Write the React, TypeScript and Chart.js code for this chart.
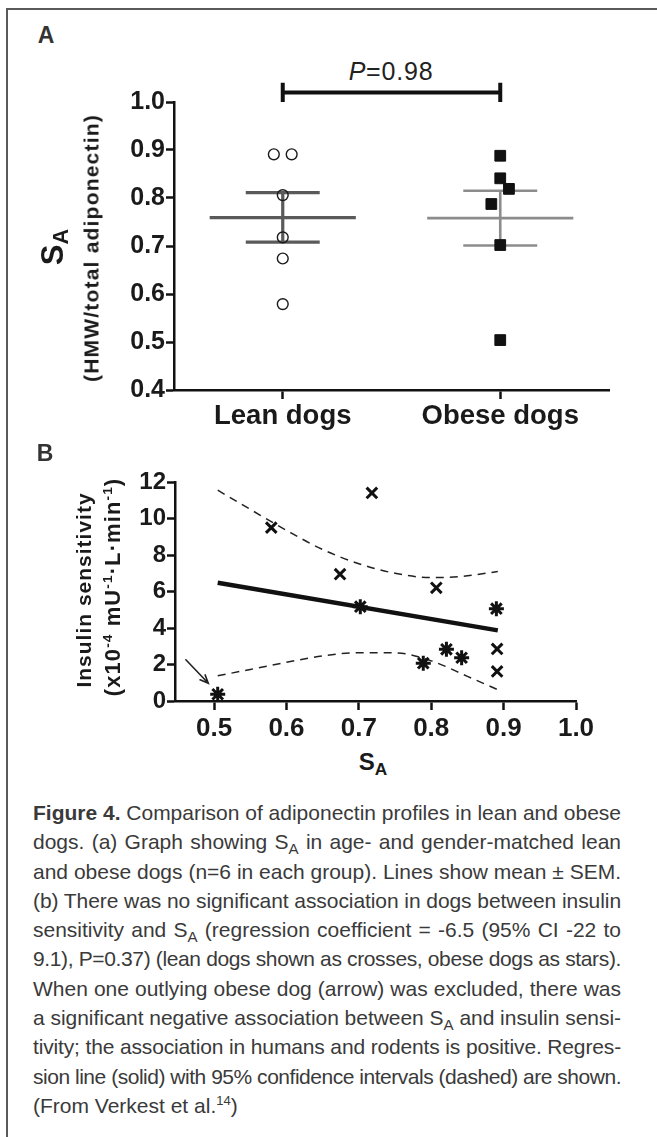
import React, { useEffect, useLayoutEffect, useRef } from 'react';
import { Chart, registerables } from 'chart.js';

Chart.register(...registerables);

// ---------------- Panel A data ----------------
const groupLabels = ['Lean dogs', 'Obese dogs'];
const groupPositions = [1, 2];
const leanSA = [0.891, 0.891, 0.806, 0.718, 0.674, 0.579];
const leanOffset = [-0.041, 0.041, 0, 0, 0, 0];
const obeseSA = [0.888, 0.841, 0.819, 0.7875, 0.702, 0.504];
const obeseOffset = [0, 0, 0.04, -0.041, 0, 0];
// mean, mean + SEM, mean - SEM
const leanMeanSEM = [0.759, 0.811, 0.708];
const obeseMeanSEM = [0.758, 0.815, 0.701];
const yTicksA = [0.4, 0.5, 0.6, 0.7, 0.8, 0.9, 1.0];
const bracketX = [1, 1, 1, 2, 2, 2];
const bracketY = [1.0, 1.04, 1.02, 1.02, 1.04, 1.0];
const pValueLabel = '=0.98';

// ---------------- Panel B data ----------------
const leanSAB = [0.579, 0.674, 0.718, 0.807, 0.891, 0.891];
const leanInsulin = [9.5, 6.95, 11.4, 6.2, 2.85, 1.62];
const obeseSAB = [0.505, 0.702, 0.789, 0.821, 0.842, 0.89];
const obeseInsulin = [0.37, 5.17, 2.07, 2.83, 2.37, 5.06];
const regX = [0.505, 0.892];
const regY = [6.48, 3.87];
const ciX = [0.505, 0.55, 0.6, 0.65, 0.7, 0.75, 0.8, 0.85, 0.892];
const ciUpper = [11.55, 10.5, 9.35, 8.3, 7.52, 7.0, 6.76, 6.86, 7.1];
const ciLower = [1.38, 1.73, 2.12, 2.47, 2.65, 2.64, 2.2, 1.35, 0.62];
const arrowFrom = [0.461, 2.26];
const arrowTo = [0.492, 0.97];
const xTicksB = [0.5, 0.6, 0.7, 0.8, 0.9, 1.0];
const yTicksB = [0, 2, 4, 6, 8, 10, 12];

// ---------------- Caption ----------------
const captionLines: [string, string][][] = [
  [['b', 'Figure 4.'], ['n', ' Comparison of adiponectin profiles in lean and obese']],
  [['n', 'dogs. (a) Graph showing S'], ['sub', 'A'], ['n', ' in age- and gender-matched lean']],
  [['n', 'and obese dogs (n=6 in each group). Lines show mean \u00b1 SEM.']],
  [['n', '(b) There was no significant association in dogs between insulin']],
  [['n', 'sensitivity and S'], ['sub', 'A'], ['n', ' (regression coefficient = -6.5 (95% CI -22 to']],
  [['n', '9.1), P=0.37) (lean dogs shown as crosses, obese dogs as stars).']],
  [['n', 'When one outlying obese dog (arrow) was excluded, there was']],
  [['n', 'a significant negative association between S'], ['sub', 'A'], ['n', ' and insulin sensi-']],
  [['n', 'tivity; the association in humans and rodents is positive. Regres-']],
  [['n', 'sion line (solid) with 95% confidence intervals (dashed) are shown.']],
  [['n', '(From Verkest et al.'], ['sup', '14'], ['n', ')']],
];

const FONT = "'Liberation Sans', Arial, Helvetica, sans-serif";
const CAPTION_LEFT = 33;
const CAPTION_WIDTH = 588;

const pts = (xs: number[], ys: number[], off?: number[]) =>
  xs.map((x, i) => ({ x: x + (off ? off[i] : 0), y: ys[i] }));

const arrowPlugin = {
  id: 'outlierArrow',
  afterDatasetsDraw(chart: any) {
    const { ctx, scales } = chart;
    const xs = scales.x;
    const ys = scales.y;
    const x1 = xs.getPixelForValue(arrowFrom[0]);
    const y1 = ys.getPixelForValue(arrowFrom[1]);
    const x2 = xs.getPixelForValue(arrowTo[0]);
    const y2 = ys.getPixelForValue(arrowTo[1]);
    const ang = Math.atan2(y2 - y1, x2 - x1);
    const head = 9;
    const spread = 0.4;
    ctx.save();
    ctx.strokeStyle = '#222';
    ctx.lineWidth = 1.6;
    ctx.lineCap = 'round';
    ctx.beginPath();
    ctx.moveTo(x1, y1);
    ctx.lineTo(x2, y2);
    ctx.moveTo(x2 - head * Math.cos(ang - spread), y2 - head * Math.sin(ang - spread));
    ctx.lineTo(x2, y2);
    ctx.lineTo(x2 - head * Math.cos(ang + spread), y2 - head * Math.sin(ang + spread));
    ctx.stroke();
    ctx.restore();
  },
};

const Txt = ({ x, y, rot, style, children }: any) => (
  <div
    style={{
      position: 'absolute',
      left: x,
      top: y,
      transform: `translate(-50%, -50%)${rot ? ' rotate(-90deg)' : ''}`,
      whiteSpace: 'nowrap',
      lineHeight: 1,
      fontFamily: FONT,
      ...style,
    }}
  >
    {children}
  </div>
);

const Sub = ({ children, size = '0.72em', drop = '-0.3em' }: any) => (
  <span style={{ fontSize: size, verticalAlign: drop, lineHeight: 0 }}>{children}</span>
);
const Sup = ({ children }: any) => (
  <span style={{ fontSize: '0.62em', verticalAlign: '0.6em', lineHeight: 0 }}>{children}</span>
);

export default function App() {
  const aRef = useRef<HTMLCanvasElement>(null);
  const bRef = useRef<HTMLCanvasElement>(null);
  const lineRefs = useRef<(HTMLSpanElement | null)[]>([]);

  useLayoutEffect(() => {
    const adjust = () => {
      lineRefs.current.forEach((el, i) => {
        if (!el || i === captionLines.length - 1) return;
        el.style.wordSpacing = '0px';
        el.style.letterSpacing = '0px';
        const w = el.getBoundingClientRect().width;
        const text = el.textContent || '';
        const spaces = text.split(' ').length - 1;
        if (w <= CAPTION_WIDTH) {
          if (spaces > 0) el.style.wordSpacing = (CAPTION_WIDTH - w) / spaces + 'px';
        } else {
          el.style.letterSpacing = (CAPTION_WIDTH - w) / text.length + 'px';
        }
      });
    };
    adjust();
    if ((document as any).fonts && (document as any).fonts.ready) {
      (document as any).fonts.ready.then(adjust);
    }
  }, []);

  useEffect(() => {
    const axisColor = '#111';
    const tickColor = '#1a1a1a';
    const meanHalf = 0.336;
    const semHalf = 0.17;

    const statSets = (center: number, s: number[], color: string, width: number) => {
      const [m, hi, lo] = s;
      const segs = [
        [{ x: center - meanHalf, y: m }, { x: center + meanHalf, y: m }],
        [{ x: center - semHalf, y: hi }, { x: center + semHalf, y: hi }],
        [{ x: center - semHalf, y: lo }, { x: center + semHalf, y: lo }],
        [{ x: center, y: hi }, { x: center, y: lo }],
      ];
      return segs.map((d) => ({
        data: d,
        showLine: true,
        borderColor: color,
        borderWidth: width,
        pointRadius: 0,
        borderCapStyle: 'butt',
        clip: false,
      }));
    };

    const axisCommon = (fontSize: number, tickLen: number) => ({
      type: 'linear',
      grid: {
        display: true,
        drawOnChartArea: false,
        drawTicks: true,
        tickLength: tickLen,
        tickWidth: 2.5,
        color: axisColor,
      },
      border: { display: true, color: axisColor, width: 2.5 },
      ticks: {
        font: { family: FONT, size: fontSize, weight: 'bold' },
        color: tickColor,
        autoSkip: false,
        maxRotation: 0,
        minRotation: 0,
      },
    });

    const xA: any = axisCommon(27.5, 9);
    xA.min = 0.5;
    xA.max = 2.5;
    xA.afterFit = (s: any) => { s.height = 50; };
    xA.afterBuildTicks = (s: any) => { s.ticks = groupPositions.map((v) => ({ value: v })); };
    xA.ticks.padding = 1;
    xA.ticks.callback = (v: any) => groupLabels[groupPositions.indexOf(Number(v))] ?? '';

    const yA: any = axisCommon(25, 8);
    yA.min = 0.4;
    yA.max = 1.0;
    yA.afterFit = (s: any) => { s.width = 174; };
    yA.afterBuildTicks = (s: any) => { s.ticks = yTicksA.map((v) => ({ value: v })); };
    yA.ticks.padding = 1;
    yA.ticks.callback = (v: any) => Number(v).toFixed(1);

    const chartA = new Chart(aRef.current as HTMLCanvasElement, {
      type: 'line',
      data: {
        datasets: [
          {
            data: pts(obeseSA.map(() => groupPositions[1]), obeseSA, obeseOffset),
            showLine: false,
            pointStyle: 'rect',
            pointRadius: 7.6,
            pointBackgroundColor: '#111',
            pointBorderColor: '#111',
            pointBorderWidth: 1,
            clip: false,
          },
          {
            data: pts(leanSA.map(() => groupPositions[0]), leanSA, leanOffset),
            showLine: false,
            pointStyle: 'circle',
            pointRadius: 5.4,
            pointBackgroundColor: 'rgba(255,255,255,0)',
            pointBorderColor: '#1a1a1a',
            pointBorderWidth: 1.4,
            clip: false,
          },
          ...statSets(groupPositions[0], leanMeanSEM, '#5a5a5a', 3.2),
          ...statSets(groupPositions[1], obeseMeanSEM, '#8c8c8c', 2.6),
          {
            data: pts(bracketX, bracketY),
            showLine: true,
            borderColor: '#111',
            borderWidth: 4,
            pointRadius: 0,
            clip: false,
          },
        ] as any,
      },
      options: {
        responsive: false,
        animation: false,
        events: [],
        layout: { padding: { left: 0, right: 48, top: 62, bottom: 0 } },
        plugins: { legend: { display: false }, tooltip: { enabled: false } },
        scales: { x: xA, y: yA },
      } as any,
    });

    const xB: any = axisCommon(26, 9);
    xB.min = 0.446;
    xB.max = 1.0;
    xB.afterFit = (s: any) => { s.height = 39; };
    xB.afterBuildTicks = (s: any) => { s.ticks = xTicksB.map((v) => ({ value: v })); };
    xB.ticks.padding = 3;
    xB.ticks.callback = (v: any) => Number(v).toFixed(1);

    const yB: any = axisCommon(24, 8);
    yB.min = 0;
    yB.max = 12;
    yB.afterFit = (s: any) => { s.width = 175; };
    yB.afterBuildTicks = (s: any) => { s.ticks = yTicksB.map((v) => ({ value: v })); };
    yB.ticks.padding = 1;
    yB.ticks.callback = (v: any) => String(v);

    const chartB = new Chart(bRef.current as HTMLCanvasElement, {
      type: 'line',
      data: {
        datasets: [
          {
            data: pts(leanSAB, leanInsulin),
            showLine: false,
            pointStyle: 'crossRot',
            pointRadius: 7.5,
            pointBorderColor: '#111',
            pointBorderWidth: 3,
            clip: false,
          },
          {
            data: pts(obeseSAB, obeseInsulin),
            showLine: false,
            pointStyle: 'star',
            pointRadius: 7.5,
            pointBorderColor: '#111',
            pointBorderWidth: 3,
            clip: false,
          },
          {
            data: pts(regX, regY),
            showLine: true,
            borderColor: '#111',
            borderWidth: 4.5,
            pointRadius: 0,
            clip: false,
          },
          {
            data: pts(ciX, ciUpper),
            showLine: true,
            borderColor: '#222',
            borderWidth: 1.5,
            borderDash: [8, 6],
            cubicInterpolationMode: 'monotone',
            pointRadius: 0,
            clip: false,
          },
          {
            data: pts(ciX, ciLower),
            showLine: true,
            borderColor: '#222',
            borderWidth: 1.5,
            borderDash: [8, 6],
            cubicInterpolationMode: 'monotone',
            pointRadius: 0,
            clip: false,
          },
        ] as any,
      },
      options: {
        responsive: false,
        animation: false,
        events: [],
        layout: { padding: { left: 0, right: 81, top: 42, bottom: 0 } },
        plugins: { legend: { display: false }, tooltip: { enabled: false } },
        scales: { x: xB, y: yB },
      } as any,
      plugins: [arrowPlugin],
    });

    return () => {
      chartA.destroy();
      chartB.destroy();
    };
  }, []);

  return (
    <div
      style={{
        position: 'absolute',
        left: 0,
        top: 0,
        width: 657,
        height: 1137,
        background: '#fff',
        overflow: 'hidden',
        fontFamily: FONT,
      }}
    >
      {/* frame */}
      <div
        style={{
          position: 'absolute',
          left: 6,
          top: 8,
          width: 700,
          height: 1200,
          borderLeft: '2px solid #5a5a5a',
          borderTop: '2px solid #5a5a5a',
        }}
      />

      {/* Panel A */}
      <Txt x={46} y={35} style={{ fontWeight: 'bold', fontSize: 23, color: '#333' }}>A</Txt>
      <Txt x={391} y={71} style={{ fontSize: 25, letterSpacing: 0.8, color: '#222' }}>
        <i>P</i>
        {pValueLabel}
      </Txt>
      <canvas
        ref={aRef}
        width={657}
        height={400}
        style={{ position: 'absolute', left: 0, top: 40, width: 657, height: 400 }}
      />
      <Txt x={52} y={247} rot style={{ fontWeight: 'bold', fontSize: 31, color: '#1a1a1a' }}>
        S<Sub size="0.7em" drop="-0.25em">A</Sub>
      </Txt>
      <Txt x={91} y={248} rot style={{ fontWeight: 'bold', fontSize: 21, letterSpacing: 1.2, color: '#1a1a1a' }}>
        (HMW/total adiponectin)
      </Txt>

      {/* Panel B */}
      <Txt x={45} y={453} style={{ fontWeight: 'bold', fontSize: 23, color: '#333' }}>B</Txt>
      <canvas
        ref={bRef}
        width={657}
        height={300}
        style={{ position: 'absolute', left: 0, top: 440, width: 657, height: 300 }}
      />
      <Txt x={83} y={590} rot style={{ fontWeight: 'bold', fontSize: 21, letterSpacing: 1, color: '#1a1a1a' }}>
        Insulin sensitivity
      </Txt>
      <Txt x={113} y={587} rot style={{ fontWeight: 'bold', fontSize: 22, letterSpacing: 1.1, color: '#1a1a1a' }}>
        (x10<Sup>-4</Sup> mU<Sup>-1</Sup>·L·min<Sup>-1</Sup>)
      </Txt>
      <Txt x={373} y={762} style={{ fontWeight: 'bold', fontSize: 24, color: '#1a1a1a' }}>
        S<Sub size="0.72em" drop="-0.3em">A</Sub>
      </Txt>

      {/* Caption */}
      <div
        style={{
          position: 'absolute',
          left: CAPTION_LEFT,
          top: 798,
          width: 640,
          fontSize: 21,
          color: '#3a3a3a',
          fontFamily: FONT,
        }}
      >
        {captionLines.map((line, i) => (
          <div key={i} style={{ height: 29.3, lineHeight: '29.3px', whiteSpace: 'nowrap' }}>
            <span ref={(el) => { lineRefs.current[i] = el; }}>
              {line.map(([kind, text], j) => {
                if (kind === 'b') return <b key={j}>{text}</b>;
                if (kind === 'sub') return <Sub key={j}>{text}</Sub>;
                if (kind === 'sup') return <Sup key={j}>{text}</Sup>;
                return <React.Fragment key={j}>{text}</React.Fragment>;
              })}
            </span>
          </div>
        ))}
      </div>
    </div>
  );
}
